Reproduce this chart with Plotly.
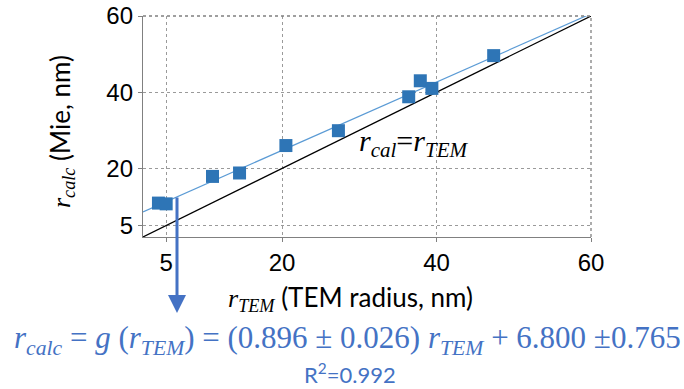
import plotly.graph_objects as go

# data
r_tem = [4.0, 5.0, 11.0, 14.5, 20.5, 27.3, 36.4, 37.9, 39.4, 47.4]
r_calc = [10.9, 10.7, 17.9, 18.8, 26.0, 29.9, 38.8, 43.0, 41.0, 49.6]
fit_x = [2, 60]
fit_y = [8.6, 60.6]
ident_x = [2, 60]
ident_y = [2, 60]
tick_vals = [5, 20, 40, 60]
tick_text = ["5", "20", "40", "60"]

BLUE_TXT = "#4472C4"
SERIF = "Liberation Serif"
SANS = "Lato"

fig = go.Figure()
fig.add_trace(go.Scatter(x=ident_x, y=ident_y, mode="lines",
                         line=dict(color="black", width=1.2), showlegend=False))
fig.add_trace(go.Scatter(x=fit_x, y=fit_y, mode="lines",
                         line=dict(color="#5B9BD5", width=1.2), showlegend=False))
fig.add_trace(go.Scatter(x=r_tem, y=r_calc, mode="markers",
                         marker=dict(symbol="square", size=13, color="#2E75B6"),
                         showlegend=False))

axis_common = dict(
    range=[2, 60], tickvals=tick_vals, ticktext=tick_text,
    showgrid=True, gridcolor="#9a9a9a", griddash="dot", gridwidth=1,
    showline=True, linecolor="#808080", linewidth=1.3,
    ticks="outside", ticklen=4, tickcolor="#808080",
    tickfont=dict(family="Liberation Sans", size=24, color="black"),
    zeroline=False, automargin=False,
)
fig.update_xaxes(**axis_common)
fig.update_yaxes(**axis_common)

fig.update_layout(
    width=684, height=389,
    margin=dict(l=143, r=93, t=16, b=152, autoexpand=False),
    plot_bgcolor="white", paper_bgcolor="white",
)

# right/top border (dotted)
fig.add_shape(type="line", xref="paper", yref="paper", x0=1, x1=1, y0=0, y1=1,
              line=dict(color="#808080", width=1.3, dash="dot"))
fig.add_shape(type="line", xref="paper", yref="paper", x0=0, x1=1, y0=1, y1=1,
              line=dict(color="#808080", width=1.3, dash="dot"))

annotations = [
    # y title
    dict(text=f"<span style='font-family:{SERIF}'><i>r</i><sub><i>calc</i></sub></span> (Mie, nm)",
         xref="paper", yref="paper", x=-0.183, y=(237 - 132) / 221, textangle=-90,
         showarrow=False, font=dict(family=SANS, size=26, color="black"),
         xanchor="center", yanchor="middle"),
    # x title
    dict(text=f"<span style='font-family:{SERIF}'><i>r</i><sub><i>TEM</i></sub></span> (TEM radius, nm)",
         xref="paper", yref="paper", x=(350 - 143) / 448, y=(237 - 298) / 221,
         showarrow=False, font=dict(family=SANS, size=26, color="black"),
         xanchor="center", yanchor="middle"),
    # identity label
    dict(text="<i>r</i><sub><i>cal</i></sub>=<i>r</i><sub><i>TEM</i></sub>",
         x=37.0, y=26.8, xref="x", yref="y", showarrow=False,
         font=dict(family=SERIF, size=30, color="black")),
    # arrow
    dict(text="", xref="paper", yref="paper",
         x=(177 - 143) / 448, y=(237 - 313) / 221,
         ax=0, ay=-117, showarrow=True, arrowhead=2, arrowsize=1.2,
         arrowwidth=3, arrowcolor=BLUE_TXT),
    # equation
    dict(text="<i>r</i><sub><i>calc</i></sub> = <i>g</i> (<i>r</i><sub><i>TEM</i></sub>) = "
              "(0.896 ± 0.026) <i>r</i><sub><i>TEM</i></sub> + 6.800 ±0.765",
         xref="paper", yref="paper", x=(347 - 143) / 448, y=(237 - 340) / 221,
         showarrow=False, font=dict(family=SERIF, size=31, color=BLUE_TXT),
         xanchor="center", yanchor="middle"),
    dict(text="R<sup>2</sup>=0.992",
         xref="paper", yref="paper", x=(350 - 143) / 448, y=(237 - 373) / 221,
         showarrow=False, font=dict(family=SANS, size=22, color=BLUE_TXT),
         xanchor="center", yanchor="middle"),
]
fig.update_layout(annotations=annotations)

fig.write_html("out.html",
               config={"displayModeBar": False},
               post_script="document.body.style.margin='0px';"
                           "document.body.style.overflow='hidden';")
